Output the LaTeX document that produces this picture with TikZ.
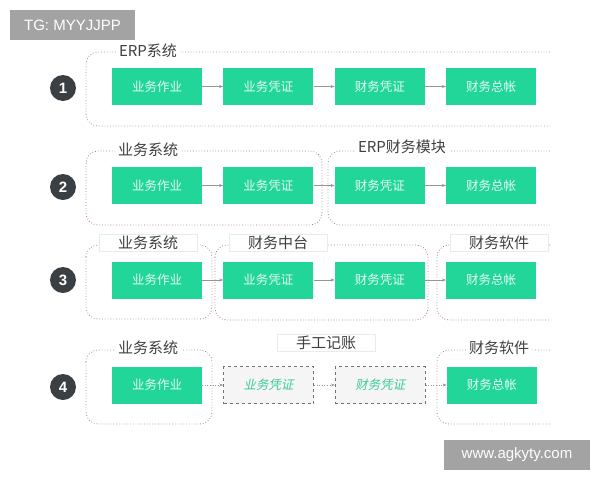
\documentclass[tikz,border=0pt]{standalone}
\usepackage{fontspec}
\newfontfamily\cjk{Noto Sans CJK SC}
\newfontfamily\cjkslant[FakeSlant=0.2]{Noto Sans CJK SC}
\newfontfamily\wmfont{Liberation Sans}
\usetikzlibrary{positioning,arrows.meta}
\definecolor{boxgreen}{RGB}{34,214,154}
\definecolor{numdark}{RGB}{58,63,68}
\definecolor{linegray}{RGB}{150,150,150}
\definecolor{linered}{RGB}{178,120,138}
\definecolor{slanttext}{RGB}{60,200,160}

\begin{document}
\begin{tikzpicture}[
        x=1pt, y=-1pt,
        gbox/.style={fill=boxgreen, minimum width=90pt, minimum height=37pt, inner sep=0pt, text=white!88!boxgreen, font=\cjk\fontsize{12.5}{14}\selectfont},
        manual/.style={fill=black!4, draw=black!55, dashed, line width=0.7pt, minimum width=90pt, minimum height=37pt, inner sep=0pt, text=slanttext, font=\cjkslant\fontsize{12.5}{14}\selectfont},
        num/.style={circle, fill=numdark, minimum size=26pt, inner sep=0pt, text=white, font=\wmfont\bfseries\fontsize{15}{16}\selectfont},
        grp/.style={draw=linegray, dotted, line width=0.8pt, rounded corners=12pt},
        grptitle/.style={fill=white, inner sep=3pt, text=black!75, font=\cjk\fontsize{15}{17}\selectfont},
        tag/.style={grptitle, draw=black!8, minimum width=98pt, minimum height=17pt, inner sep=0pt},
        flow/.style={draw=linegray, line width=0.6pt, -{Stealth[length=4pt,width=3pt]}},
        wmark/.style={fill=black!36, text=white, minimum height=30pt, inner sep=0pt, font=\wmfont\fontsize{15}{17}\selectfont},
    ]
    \useasboundingbox (0,0) rectangle (600,480);

    % 1: ERP
    \draw[grp] (550,52) -- (86,52) -- (86,126) -- (550,126);
    \node[grptitle] (erp1) at (148,51) {ERP系统};
    \node[num] (n1) at (63,88) {1};
    \node[gbox] (ywzy1) at (157,86.5) {业务作业};
    \node[gbox, right=21pt of ywzy1] (ywpz1) {业务凭证};
    \node[gbox, right=21pt of ywpz1] (cwpz1) {财务凭证};
    \node[gbox, right=21pt of cwpz1] (cwzz1) {财务总帐};
    \draw[flow] (ywzy1) -- (ywpz1);
    \draw[flow] (ywpz1) -- (cwpz1);
    \draw[flow] (cwpz1) -- (cwzz1);

    % 2: business system + ERP finance module
    \draw[grp, draw=linered] (86,151) rectangle (322,225);
    \draw[grp] (550,151) -- (328,151) -- (328,225) -- (550,225);
    \node[grptitle] (ywxt2) at (148,150) {业务系统};
    \node[grptitle] (erpcw2) at (402,147) {ERP财务模块};
    \node[num] (n2) at (63,187) {2};
    \node[gbox] (ywzy2) at (157,185.5) {业务作业};
    \node[gbox, right=21pt of ywzy2] (ywpz2) {业务凭证};
    \node[gbox, right=21pt of ywpz2] (cwpz2) {财务凭证};
    \node[gbox, right=21pt of cwpz2] (cwzz2) {财务总帐};
    \draw[flow] (ywzy2) -- (ywpz2);
    \draw[flow] (ywpz2) -- (cwpz2);
    \draw[flow] (cwpz2) -- (cwzz2);

    % 3: finance middle platform
    \draw[grp] (86,245) rectangle (212,319);
    \draw[grp, draw=linered] (215,245) rectangle (428,320);
    \draw[grp, draw=linered] (550,245) -- (437,245) -- (437,320) -- (550,320);
    \node[tag] (ywxt3) at (148,243) {业务系统};
    \node[tag] (cwzt3) at (278,243) {财务中台};
    \node[tag] (cwrj3) at (499,243) {财务软件};
    \node[num] (n3) at (63,280) {3};
    \node[gbox] (ywzy3) at (157,280) {业务作业};
    \node[gbox, right=21pt of ywzy3] (ywpz3) {业务凭证};
    \node[gbox, right=21pt of ywpz3] (cwpz3) {财务凭证};
    \node[gbox, right=21pt of cwpz3] (cwzz3) {财务总帐};
    \draw[flow] (ywzy3) -- (ywpz3);
    \draw[flow] (ywpz3) -- (cwpz3);
    \draw[flow] (cwpz3) -- (cwzz3);

    % 4: manual bookkeeping
    \draw[grp] (86,350) rectangle (212,424);
    \draw[grp] (550,350) -- (437,350) -- (437,424) -- (550,424);
    \node[grptitle] (ywxt4) at (148,348) {业务系统};
    \node[tag] (sgjz4) at (326,343) {手工记账};
    \node[grptitle] (cwrj4) at (499,348) {财务软件};
    \node[num] (n4) at (63,387) {4};
    \node[gbox] (ywzy4) at (157,385) {业务作业};
    \node[manual, right=21pt of ywzy4] (ywpz4) {业务凭证};
    \node[manual, right=21pt of ywpz4] (cwpz4) {财务凭证};
    \node[gbox, right=21pt of cwpz4] (cwzz4) {财务总帐};
    \draw[flow, dotted] (ywzy4) -- (ywpz4);
    \draw[flow, dotted] (ywpz4) -- (cwpz4);
    \draw[flow, dotted] (cwpz4) -- (cwzz4);

    % watermarks
    \node[wmark, minimum width=125pt] (tg) at (72.5,25) {TG: MYYJJPP};
    \node[wmark, minimum width=146pt] (site) at (517,455) {www.agkyty.com};
\end{tikzpicture}
\end{document}
